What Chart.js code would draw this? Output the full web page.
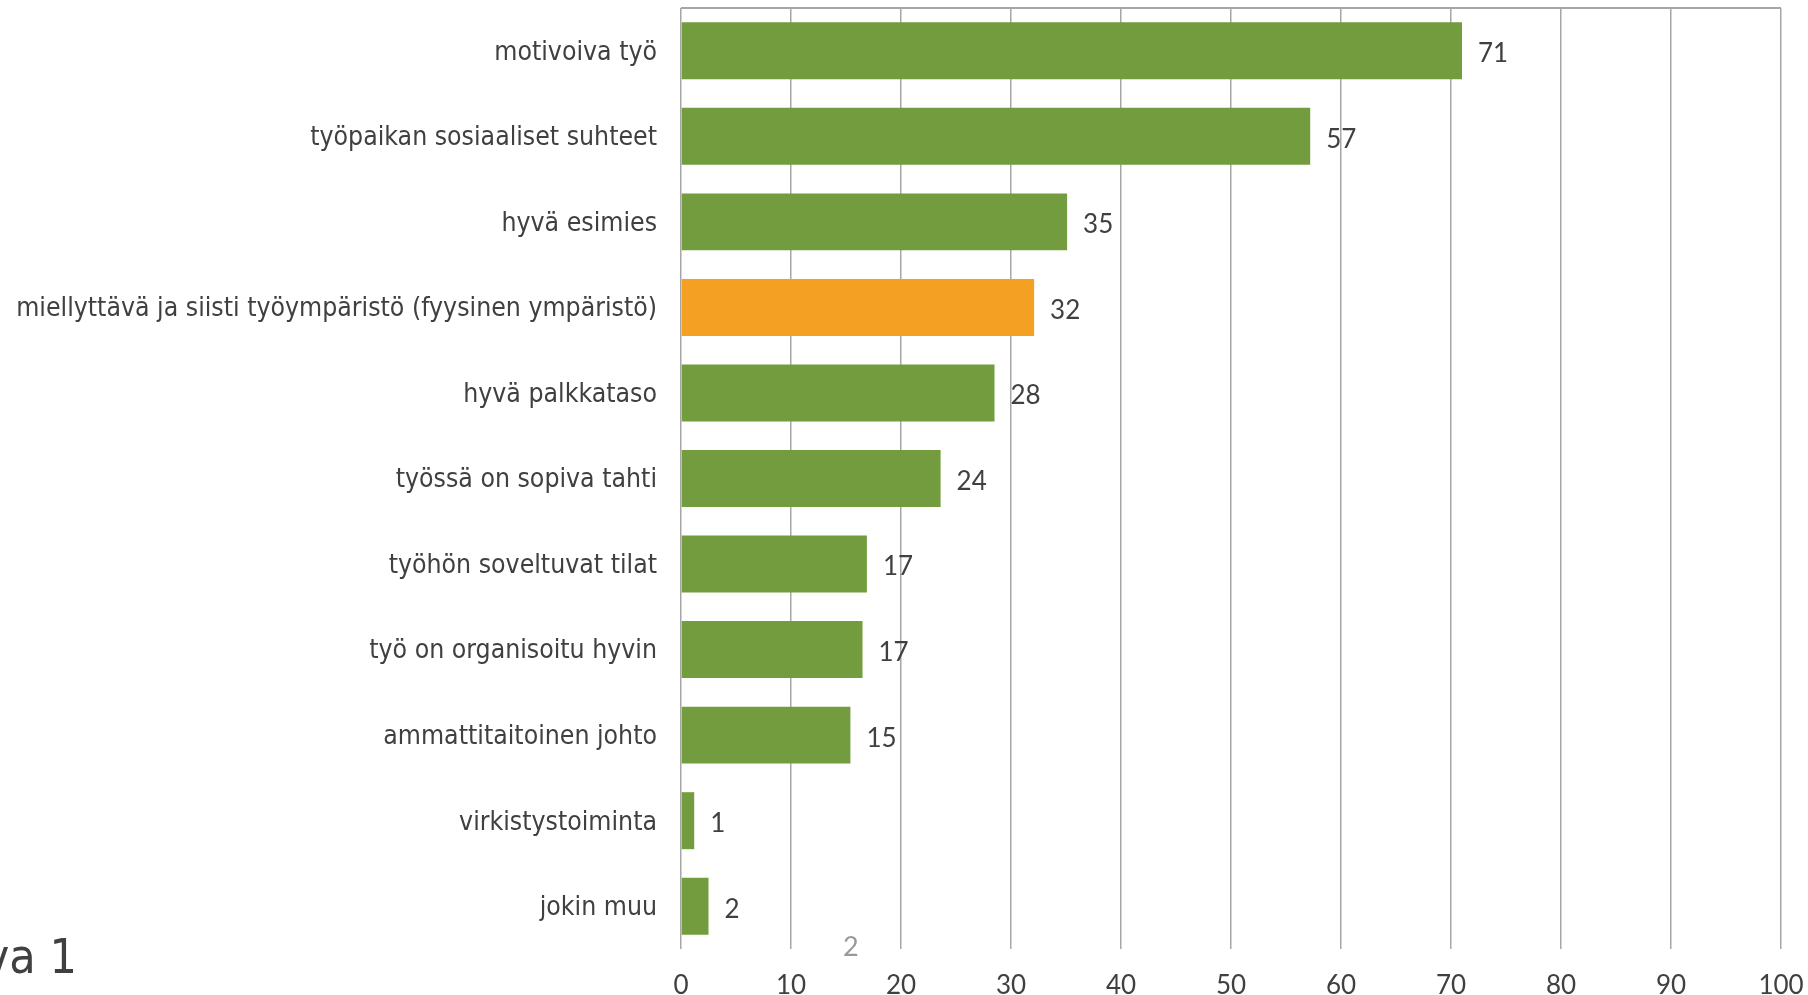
<!DOCTYPE html>
<html>
<head>
<meta charset="utf-8">
<script src="https://cdn.jsdelivr.net/npm/chart.js@4/dist/chart.umd.min.js"></script>
<style>
  body { margin: 0; background: #fff; }
  #wrap { position: relative; width: 1808px; height: 995px; overflow: hidden; }
  #figure-label {
    position: absolute; right: calc(1808px - 77px); top: 932px;
    font: 48px "DejaVu Sans Condensed", "DejaVu Sans", sans-serif;
    color: #404040; white-space: nowrap; line-height: 1;
  }
  #page-num {
    position: absolute; left: 843px; top: 932px;
    font: 27px Lato, sans-serif; color: #999; line-height: 1;
  }
</style>
</head>
<body>
<div id="wrap">
  <canvas id="chart"></canvas>
  <div id="figure-label">va 1</div>
  <div id="page-num">2</div>
</div>
<script>
// --- data ---
const categories = [
  'motivoiva työ',
  'työpaikan sosiaaliset suhteet',
  'hyvä esimies',
  'miellyttävä ja siisti työympäristö (fyysinen ympäristö)',
  'hyvä palkkataso',
  'työssä on sopiva tahti',
  'työhön soveltuvat tilat',
  'työ on organisoitu hyvin',
  'ammattitaitoinen johto',
  'virkistystoiminta',
  'jokin muu'
];
const values = [71.0, 57.2, 35.1, 32.1, 28.5, 23.6, 16.9, 16.5, 15.4, 1.2, 2.5];
const valueLabels = ['71', '57', '35', '32', '28', '24', '17', '17', '15', '1', '2'];
const highlighted = 'miellyttävä ja siisti työympäristö (fyysinen ympäristö)';
const xTicks = [0, 10, 20, 30, 40, 50, 60, 70, 80, 90, 100];

const GREEN = '#739c3f';
const ORANGE = '#f4a022';
const GRID = '#a6a6a6';
const TEXT = '#404040';

// top border line of the plot area
const topBorder = {
  id: 'topBorder',
  afterDraw(chart) {
    const { ctx, chartArea } = chart;
    ctx.save();
    ctx.strokeStyle = GRID;
    ctx.lineWidth = 2;
    ctx.beginPath();
    ctx.moveTo(chartArea.left, chartArea.top);
    ctx.lineTo(chartArea.right, chartArea.top);
    ctx.stroke();
    ctx.restore();
  }
};

// value labels to the right of each bar
const barValues = {
  id: 'barValues',
  afterDatasetsDraw(chart) {
    const { ctx } = chart;
    const meta = chart.getDatasetMeta(0);
    ctx.save();
    ctx.font = '26px Lato, sans-serif';
    ctx.fillStyle = TEXT;
    ctx.textAlign = 'left';
    ctx.textBaseline = 'middle';
    meta.data.forEach((bar, i) => {
      ctx.fillText(valueLabels[i], bar.x + 16, bar.y + 3);
    });
    ctx.restore();
  }
};

// keep label overhang from pushing the plot area around
const noPadding = (scale) => {
  scale.paddingTop = 0; scale.paddingBottom = 0;
  scale.paddingLeft = 0; scale.paddingRight = 0;
};

new Chart(document.getElementById('chart'), {
  type: 'bar',
  data: {
    labels: categories,
    datasets: [{
      data: values,
      backgroundColor: categories.map(c => c === highlighted ? ORANGE : GREEN),
      borderWidth: 0,
      categoryPercentage: 1,
      barPercentage: 0.666
    }]
  },
  options: {
    indexAxis: 'y',
    responsive: true, maintainAspectRatio: false,
    animation: false,
    layout: { padding: { top: 8, right: 27, left: 0, bottom: 0 } },
    plugins: { legend: { display: false }, tooltip: { enabled: false } },
    scales: {
      x: {
        min: 0, max: 100,
        afterBuildTicks: (scale) => { scale.ticks = xTicks.map(v => ({ value: v })); },
        afterFit: (scale) => { scale.height = 46; noPadding(scale); },
        grid: { color: GRID, lineWidth: 1.5, drawTicks: false },
        border: { display: false },
        ticks: { color: TEXT, padding: 21, font: { family: 'Lato', size: 26 } }
      },
      y: {
        afterFit: (scale) => { scale.width = 681; noPadding(scale); },
        grid: { display: false, drawTicks: false },
        border: { display: false },
        ticks: {
          color: TEXT, padding: 24, autoSkip: false, labelOffset: 2,
          font: { family: '"DejaVu Sans Condensed", "DejaVu Sans"', size: 26.4 }
        }
      }
    }
  },
  plugins: [topBorder, barValues]
});
</script>
</body>
</html>
